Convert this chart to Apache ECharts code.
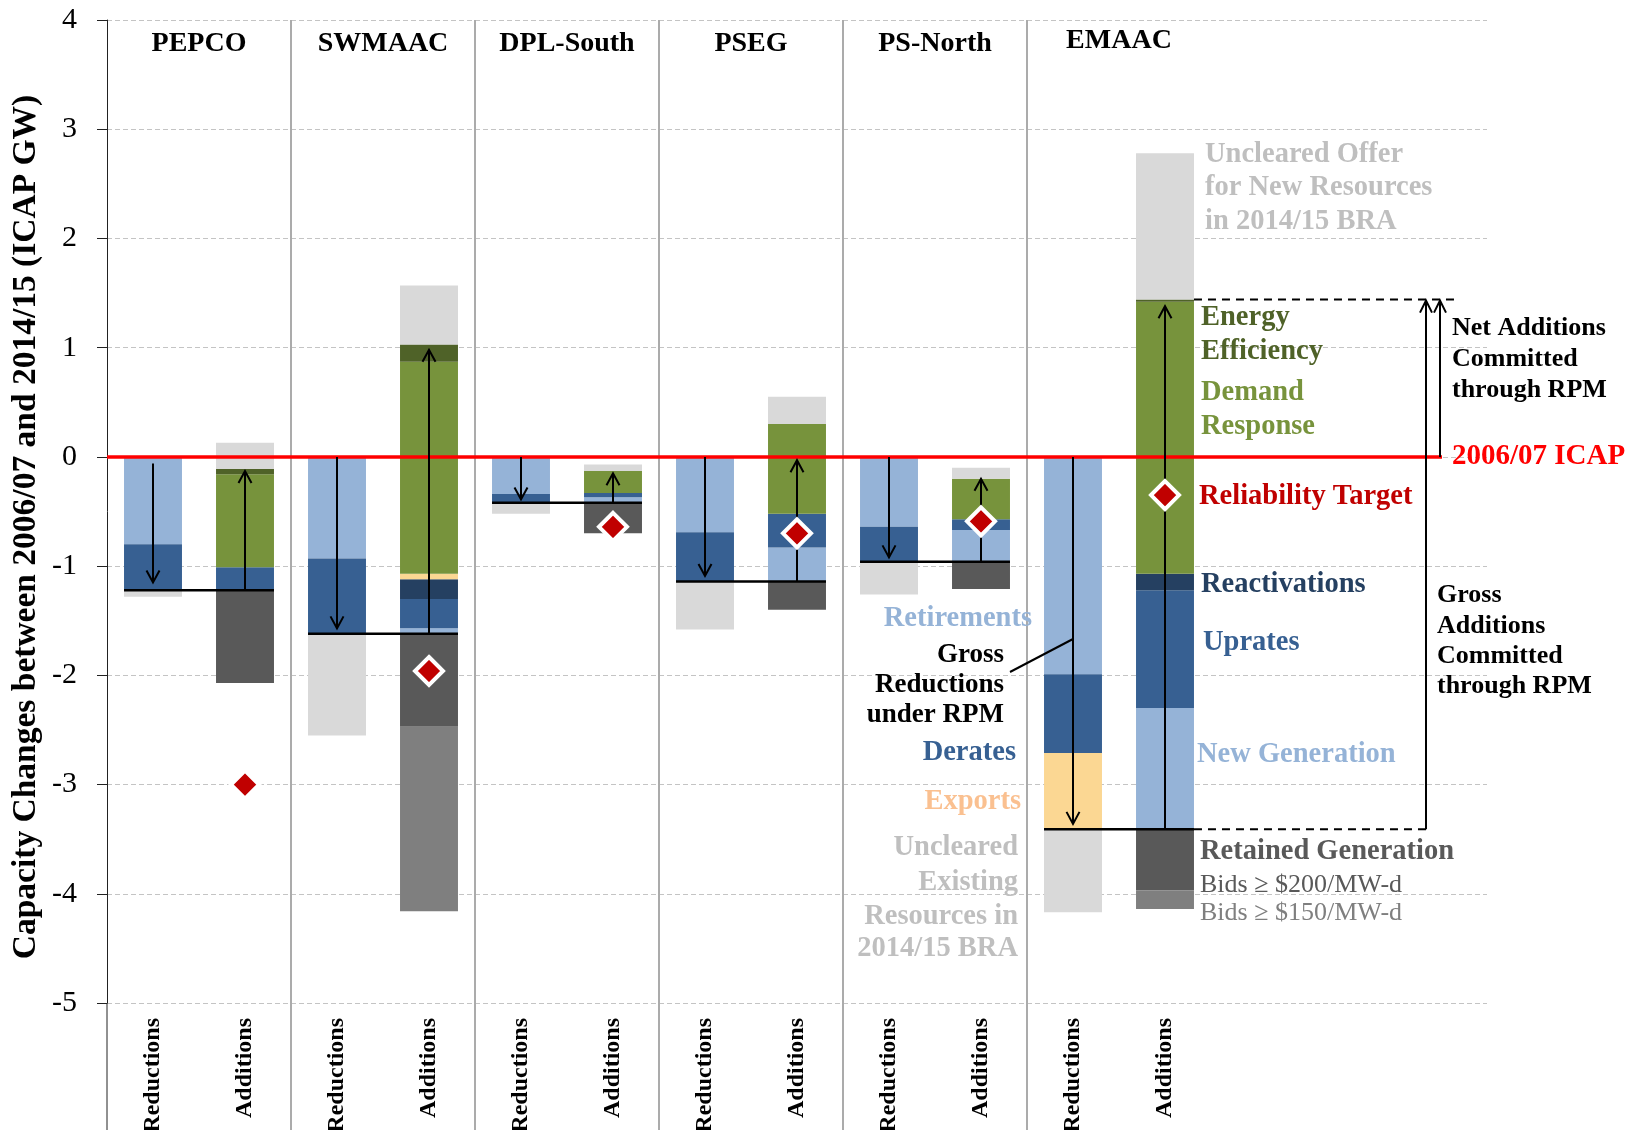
<!DOCTYPE html>
<html>
<head>
<meta charset="utf-8">
<title>Capacity Changes 2006/07 - 2014/15</title>
<script src="https://cdn.jsdelivr.net/npm/echarts@6/dist/echarts.min.js"></script>
<style>
html, body { margin: 0; padding: 0; background: #fff; }
#main { width: 1638px; height: 1130px; }
</style>
</head>
<body>
<div id="main"></div>
<script>
// regions, each one has a Reductions column and an Additions column
const regions = ['PEPCO', 'SWMAAC', 'DPL-South', 'PSEG', 'PS-North', 'EMAAC'];
const columnNames = ['Reductions', 'Additions'];

// gross reductions (ICAP GW), stacked down from 0
const retirements       = [0.80, 0.93, 0.34, 0.69, 0.64, 1.99];
const derates           = [0.42, 0.69, 0.08, 0.45, 0.32, 0.72];
const exportsGW         = [0.00, 0.00, 0.00, 0.00, 0.00, 0.70];
const unclearedExisting = [0.06, 0.93, 0.10, 0.44, 0.30, 0.76];

// gross additions (ICAP GW), stacked up from the gross reduction level
const newGeneration    = [0.00, 0.05, 0.05, 0.31, 0.29, 1.11];
const uprates          = [0.21, 0.27, 0.04, 0.31, 0.10, 1.08];
const reactivations    = [0.00, 0.18, 0.00, 0.00, 0.00, 0.15];
const importsGW        = [0.00, 0.05, 0.00, 0.00, 0.00, 0.00];
const demandResponse   = [0.85, 1.94, 0.20, 0.82, 0.37, 2.49];
const energyEff        = [0.05, 0.16, 0.00, 0.00, 0.00, 0.02];
const unclearedNew     = [0.24, 0.54, 0.06, 0.25, 0.10, 1.34];

// retained generation, below the gross reduction level
const retained200 = [0.85, 0.85, 0.28, 0.26, 0.25, 0.56];
const retained150 = [0.00, 1.69, 0.00, 0.00, 0.00, 0.17];

// reliability target (change vs 2006/07 ICAP)
const reliabilityTarget = [-3.00, -1.96, -0.64, -0.70, -0.59, -0.35];

// arrow ends
const reductionArrowStart = [-0.06, 0.00, 0.00, 0.00, 0.00, 0.00];
const reductionArrowEnd   = [-1.15, -1.57, -0.39, -1.09, -0.92, -3.36];
const additionArrowEnd    = [-0.13, 0.98, -0.15, -0.03, -0.20, 1.38];

const yMin = -5, yMax = 4, yStep = 1;

const C = {
	retire: '#95b3d7', derate: '#376092', react: '#254061', exp: '#fbd793',
	uncl: '#d9d9d9', dr: '#77933c', ee: '#4f6228', r200: '#595959', r150: '#7f7f7f'
};
const SERIF = '"Liberation Serif", "Times New Roman", serif';

// x categories: 12 columns + 3 empty slots on the right for the notes
const columns = [];
regions.forEach(r => columnNames.forEach(c => columns.push(r + '|' + c)));
columns.push('pad1|', 'pad2|', 'pad3|');

// build stacked segments [col, lo, hi]
const segments = [];
const baselines = [];
const redArrows = [];
const addArrows = [];
const committedTop = [];
function push(col, lo, hi, color) {
	if (hi - lo <= 0.0001) return;
	segments.push({ value: [col, lo, hi], itemStyle: { color: color } });
}
regions.forEach((r, i) => {
	const rc = 2 * i, ac = 2 * i + 1;
	let y = 0;
	[[retirements, C.retire], [derates, C.derate], [exportsGW, C.exp]].forEach(([arr, col]) => {
		push(rc, y - arr[i], y, col); y -= arr[i];
	});
	const base = y;
	push(rc, base - unclearedExisting[i], base, C.uncl);

	y = base;
	[[newGeneration, C.retire], [uprates, C.derate], [reactivations, C.react], [importsGW, C.exp],
	 [demandResponse, C.dr], [energyEff, C.ee]].forEach(([arr, col]) => {
		push(ac, y, y + arr[i], col); y += arr[i];
	});
	committedTop.push(y);
	push(ac, y, y + unclearedNew[i], C.uncl);

	y = base;
	[[retained200, C.r200], [retained150, C.r150]].forEach(([arr, col]) => {
		push(ac, y - arr[i], y, col); y -= arr[i];
	});

	baselines.push([rc, ac, base]);
	redArrows.push([rc, reductionArrowStart[i], reductionArrowEnd[i]]);
	addArrows.push([ac, base, additionArrowEnd[i]]);
});

const BAR = 0.63;

function arrowItem(params, api) {
	const x = api.value(0);
	const a = api.coord([x, api.value(1)]);
	const b = api.coord([x, api.value(2)]);
	const dir = b[1] < a[1] ? 1 : -1;
	return {
		type: 'group',
		children: [
			{ type: 'line', shape: { x1: a[0], y1: a[1], x2: b[0], y2: b[1] }, style: { stroke: '#000', lineWidth: 2 } },
			{ type: 'polyline', shape: { points: [[b[0] - 6.5, b[1] + dir * 12], [b[0], b[1]], [b[0] + 6.5, b[1] + dir * 12]] },
			  style: { stroke: '#000', fill: null, lineWidth: 2 } }
		]
	};
}

const chart = echarts.init(document.getElementById('main'));

chart.setOption({
	animation: false,
	backgroundColor: '#fff',
	grid: { left: 107, top: 20, width: 1380, height: 983, containLabel: false, outerBoundsMode: 'none' },
	xAxis: {
		type: 'category',
		data: columns,
		axisLine: { show: false, onZero: false },
		axisTick: { show: false },
		splitLine: { show: false },
		axisLabel: {
			interval: 0, rotate: 90, margin: 15,
			fontFamily: SERIF, fontWeight: 'bold', fontSize: 24, color: '#000',
			formatter: v => v.split('|')[1]
		}
	},
	yAxis: {
		type: 'value', min: yMin, max: yMax, interval: yStep,
		axisLine: { show: true, lineStyle: { color: '#222', width: 1 } },
		axisTick: { show: true, length: 10, lineStyle: { color: '#222' } },
		axisLabel: { fontFamily: SERIF, fontSize: 30, color: '#000', margin: 30 },
		splitLine: { show: true, lineStyle: { type: [5, 3], color: '#c4c4c4', width: 1 } }
	},
	series: [
		{
			type: 'custom', name: 'segments', z: 2,
			encode: { x: 0, y: [1, 2] },
			data: segments,
			renderItem(params, api) {
				const x = api.value(0);
				const p1 = api.coord([x, api.value(2)]);
				const p2 = api.coord([x, api.value(1)]);
				const w = api.size([1, 0])[0] * BAR;
				return {
					type: 'rect',
					shape: { x: p1[0] - w / 2, y: p1[1], width: w, height: p2[1] - p1[1] },
					style: { fill: api.visual('color') }
				};
			}
		},
		{
			type: 'custom', name: 'baselines', z: 6,
			encode: { x: [0, 1], y: 2 },
			data: baselines,
			renderItem(params, api) {
				const a = api.coord([api.value(0), api.value(2)]);
				const b = api.coord([api.value(1), api.value(2)]);
				const w = api.size([1, 0])[0] * BAR;
				return {
					type: 'line',
					shape: { x1: a[0] - w / 2, y1: a[1], x2: b[0] + w / 2, y2: b[1] },
					style: { stroke: '#000', lineWidth: 2.5 }
				};
			}
		},
		{
			type: 'custom', name: 'arrows', z: 7,
			encode: { x: 0, y: [1, 2] },
			data: redArrows.concat(addArrows),
			renderItem: arrowItem
		},
		{
			type: 'scatter', name: 'Reliability Target', z: 10,
			symbol: 'diamond', symbolSize: 28,
			itemStyle: { color: '#c00000', borderColor: '#fff', borderWidth: 4, opacity: 1 },
			data: reliabilityTarget.map((v, i) => [2 * i + 1, v])
		}
	]
});

// annotation layer, positioned with the chart's own scales
const px = i => chart.convertToPixel({ xAxisIndex: 0 }, i);
const py = v => chart.convertToPixel({ yAxisIndex: 0 }, v);
const slot = px(1) - px(0);
const gridLeft = px(0) - slot / 2;
const gridBottom = py(yMin);
const gridTop = py(yMax);

const g = [];
function text(t, x, y, color, size, opts) {
	opts = opts || {};
	g.push({
		type: 'text', x: x, y: y, z: 20, rotation: opts.rotation || 0,
		style: {
			text: t, fill: color, fontFamily: SERIF, fontSize: size,
			fontWeight: opts.weight || 'bold', align: opts.align || 'left', verticalAlign: 'middle'
		}
	});
}
function line(x1, y1, x2, y2, color, width, dash, z) {
	g.push({
		type: 'line', z: z || 5,
		shape: { x1: x1, y1: y1, x2: x2, y2: y2 },
		style: { stroke: color, lineWidth: width, lineDash: dash || null }
	});
}
function upArrow(x, y1, y2) {
	line(x, y1, x, y2, '#000', 2, null, 8);
	g.push({ type: 'polyline', z: 8, shape: { points: [[x - 6, y2 + 12], [x, y2], [x + 6, y2 + 12]] },
		style: { stroke: '#000', fill: null, lineWidth: 2 } });
}

// y axis line runs below the plot, region separators full height
line(gridLeft, gridBottom, gridLeft, 1130, '#222', 1, null, 1);
for (let i = 1; i < regions.length; i++) {
	const x = (px(2 * i - 1) + px(2 * i)) / 2;
	line(x, gridTop, x, 1130, '#ababab', 2, null, 1);
}
regions.forEach((r, i) => {
	text(r, (px(2 * i) + px(2 * i + 1)) / 2, i === 5 ? 41 : 44, '#000', 28, { align: 'center' });
});

// red 2006/07 ICAP line
const last = regions.length - 1;
const eAdd = px(2 * last + 1);
const barHalf = slot * BAR / 2;
line(gridLeft, py(0), 1442, py(0), '#ff0000', 3.5, null, 5);

// EMAAC bracket on the right
const topY = py(committedTop[last]);
const baseY = py(baselines[last][2]);
line(eAdd + barHalf, topY, 1455, topY, '#000', 2, [8, 6], 6);
line(eAdd + barHalf, baseY, 1426, baseY, '#000', 2, [8, 6], 6);
upArrow(1426, baseY, topY + 1);
upArrow(1440, py(0), topY + 1);

// y axis title
text('Capacity Changes between 2006/07 and 2014/15 (ICAP GW)', 26, 527, '#000', 33.5,
	{ align: 'center', rotation: Math.PI / 2 });

// notes, right side
text('Uncleared Offer', 1205, 155, '#bfbfbf', 28.5);
text('for New Resources', 1205, 188, '#bfbfbf', 28.5);
text('in 2014/15 BRA', 1205, 222, '#bfbfbf', 28.5);
text('Energy', 1201, 318, '#4f6228', 28.5);
text('Efficiency', 1201, 352, '#4f6228', 28.5);
text('Demand', 1201, 393, '#77933c', 28.5);
text('Response', 1201, 427, '#77933c', 28.5);
text('Reliability Target', 1199, 497, '#c00000', 28.5);
text('Reactivations', 1201, 585, '#254061', 28.5);
text('Uprates', 1203, 643, '#376092', 28.5);
text('New Generation', 1197, 755, '#95b3d7', 28.5);
text('Retained Generation', 1200, 852, '#595959', 28.5);
text('Bids \u2265 $200/MW-d', 1200, 885, '#595959', 26, { weight: 'normal' });
text('Bids \u2265 $150/MW-d', 1200, 913, '#7f7f7f', 26, { weight: 'normal' });
text('Net Additions', 1452, 328, '#000', 26);
text('Committed', 1452, 359, '#000', 26);
text('through RPM', 1452, 390, '#000', 26);
text('2006/07 ICAP', 1452, 457, '#ff0000', 29);
text('Gross', 1437, 595, '#000', 26);
text('Additions', 1437, 626, '#000', 26);
text('Committed', 1437, 656, '#000', 26);
text('through RPM', 1437, 686, '#000', 26);

// notes, left of EMAAC
text('Retirements', 1032, 619, '#95b3d7', 28.5, { align: 'right' });
text('Gross', 1004, 655, '#000', 27, { align: 'right' });
text('Reductions', 1004, 685, '#000', 27, { align: 'right' });
text('under RPM', 1004, 715, '#000', 27, { align: 'right' });
line(1010, 672, px(2 * last), 639, '#000', 2, null, 8);
text('Derates', 1016, 753, '#376092', 28.5, { align: 'right' });
text('Exports', 1021, 802, '#fac090', 28.5, { align: 'right' });
text('Uncleared', 1018, 848, '#bfbfbf', 28.5, { align: 'right' });
text('Existing', 1018, 883, '#bfbfbf', 28.5, { align: 'right' });
text('Resources in', 1018, 917, '#bfbfbf', 28.5, { align: 'right' });
text('2014/15 BRA', 1018, 949, '#bfbfbf', 28.5, { align: 'right' });

chart.setOption({ graphic: g });
</script>
</body>
</html>
